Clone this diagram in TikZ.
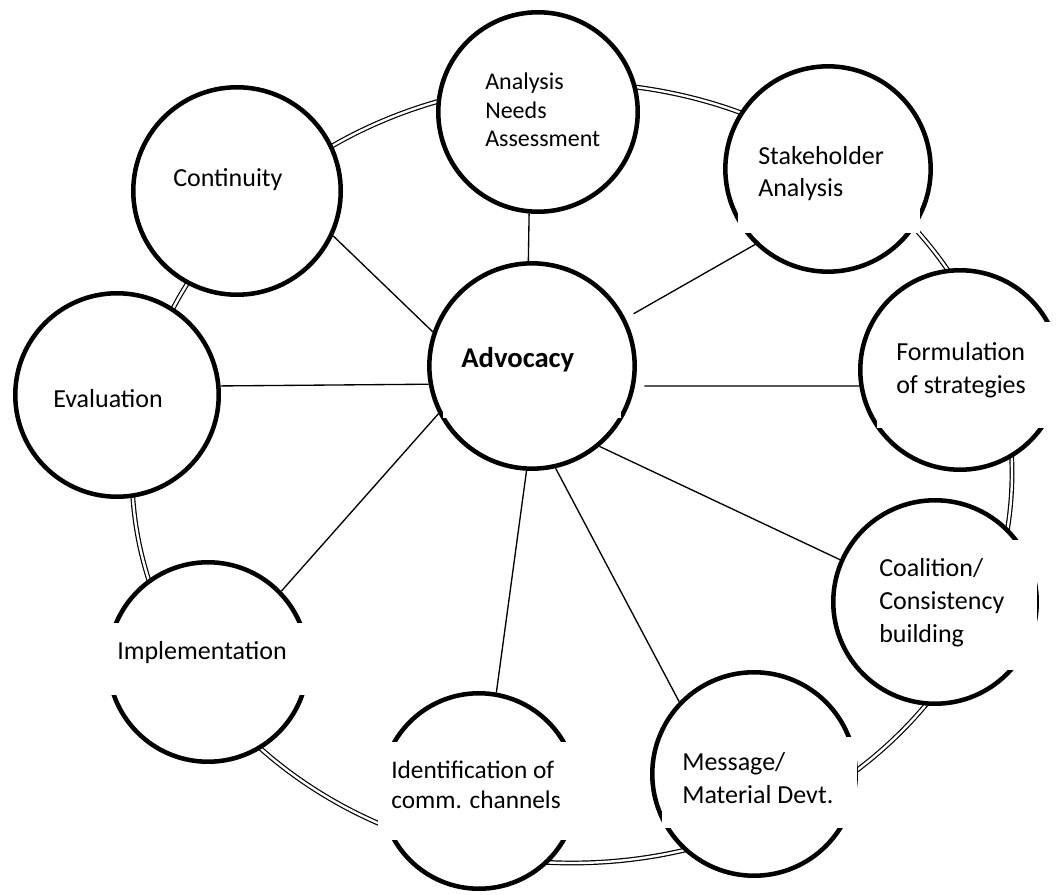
\documentclass[tikz,border=0pt]{standalone}
\usepackage{fontspec}
\setmainfont{Carlito}
\tikzset{
  stage/.style={circle,draw,fill=white,line width=3.4pt,inner sep=0pt},
  link/.style={line width=1pt},
  ring/.style={double,line width=0.9pt,double distance=1.8pt},
  lbl/.style={anchor=base west,align=left,inner sep=0pt,font=\fontsize{19.5}{24.5}\selectfont},
  gap/.style={fill=white}
}
\begin{document}
\begin{tikzpicture}[x=0.75pt,y=-0.75pt]
\useasboundingbox (0,0) rectangle (1061,895);
\draw[ring] (572,473) ellipse [x radius=330pt, y radius=292.5pt];
\node[stage,minimum size=154pt] (adv) at (532,366) {};
\node[stage,minimum size=149.6pt] (ana) at (538,112) {};
\node[stage,minimum size=154pt] (stk) at (828,169) {};
\node[stage,minimum size=149.6pt] (frm) at (960,370) {};
\node[stage,minimum size=152.6pt] (coa) at (935,602) {};
\node[stage,minimum size=152.6pt] (msg) at (754,774) {};
\node[stage,minimum size=146.6pt] (ide) at (479,791) {};
\node[stage,minimum size=149.6pt] (imp) at (208,662) {};
\node[stage,minimum size=152.6pt] (eva) at (117,395) {};
\node[stage,minimum size=155.6pt] (con) at (237,191) {};
\draw[link] (ana.265) -- (adv.92);
\draw[link] (con.-25) -- (adv.161);
\draw[link,shorten >=7pt] (stk.226) -- (adv.27);
\draw[link] (eva.5) -- (adv.190);
\draw[link,shorten <=7pt] (adv.-11) -- (frm.189);
\draw[link] (imp.44) -- (adv.207);
\draw[link] (ide.80) -- (adv.267);
\draw[link] (msg.136) -- (adv.283);
\draw[link] (coa.156) -- (adv.310);
\fill[gap] (443,332) rectangle (621,418);
\fill[gap] (738,132) rectangle (920,233);
\fill[gap] (877,322) rectangle (1070,428);
\fill[gap] (866,540) rectangle (1037,670);
\fill[gap] (662,737) rectangle (857,828);
\fill[gap] (378,742) rectangle (580,840);
\fill[gap] (95,623) rectangle (312,695);
\node[lbl,font=\fontsize{18}{21.4}\selectfont] (tana) at (485,147) {Analysis\\Needs\\Assessment};
\node[lbl,font=\fontsize{21.5}{26}\selectfont\bfseries] (tadv) at (461,367) {Advocacy};
\node[lbl] (tstk) at (758,197) {Stakeholder\\Analysis};
\node[lbl] (tfrm) at (896,393) {Formulation\\of strategies};
\node[lbl] (tcoa) at (879,642) {Coalition/\\Consistency\\building};
\node[lbl] (tmsg) at (682,803) {Message/\\Material Devt.};
\node[lbl,font=\fontsize{19}{22.5}\selectfont] (tide) at (391,808) {Identification of\\comm. channels};
\node[lbl] (timp) at (117,659) {Implementation};
\node[lbl] (teva) at (53,407) {Evaluation};
\node[lbl] (tcon) at (173,187) {Continuity};
\end{tikzpicture}
\end{document}
